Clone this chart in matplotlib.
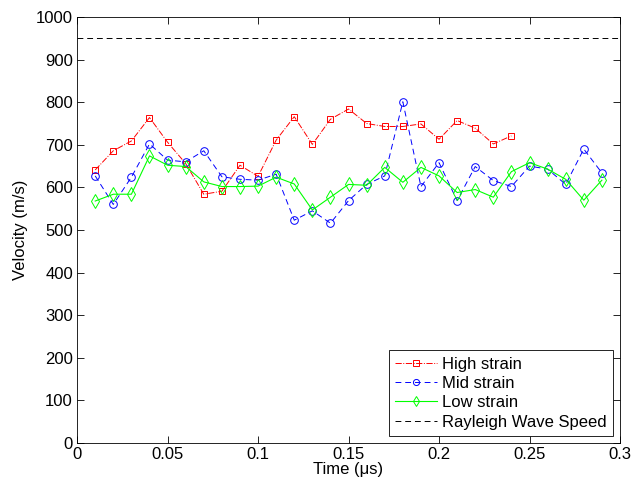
import numpy as np
import matplotlib.pyplot as plt

plt.rcParams['font.family'] = ['Liberation Sans', 'DejaVu Sans']

time_high = [0.01, 0.02, 0.03, 0.04, 0.05, 0.06, 0.07, 0.08, 0.09, 0.10, 0.11, 0.12,
             0.13, 0.14, 0.15, 0.16, 0.17, 0.18, 0.19, 0.20, 0.21, 0.22, 0.23, 0.24]
high_strain = [641, 686, 709, 764, 706, 656, 584, 591, 652, 626, 711, 766,
               701, 760, 784, 750, 743, 743, 749, 713, 757, 739, 702, 721]

time_all = [0.01, 0.02, 0.03, 0.04, 0.05, 0.06, 0.07, 0.08, 0.09, 0.10, 0.11, 0.12,
            0.13, 0.14, 0.15, 0.16, 0.17, 0.18, 0.19, 0.20, 0.21, 0.22, 0.23, 0.24,
            0.25, 0.26, 0.27, 0.28, 0.29]
mid_strain = [627, 560, 624, 702, 664, 660, 686, 625, 619, 617, 631, 523,
              545, 516, 569, 607, 627, 801, 602, 658, 569, 649, 616, 602,
              650, 643, 607, 690, 634]
low_strain = [568, 584, 584, 674, 652, 649, 613, 602, 602, 603, 624, 608,
              547, 577, 607, 605, 647, 612, 647, 627, 588, 595, 577, 637,
              658, 643, 619, 570, 617]

rayleigh_speed = 950

fig = plt.figure(figsize=(6.32, 4.86), dpi=100)
ax = fig.add_axes([0.122, 0.0885, 0.859, 0.8765])

ax.plot(time_high, high_strain, color='red', linestyle='-.', linewidth=0.7,
        marker='s', markersize=5, markerfacecolor='none', markeredgewidth=0.7,
        label='High strain')
ax.plot(time_all, mid_strain, color='blue', linestyle=(0, (6, 4)), linewidth=0.7,
        marker='o', markersize=5.5, markerfacecolor='none', markeredgewidth=0.7,
        label='Mid strain')
ax.plot(time_all, low_strain, color='#00ff00', linestyle='-', linewidth=0.8,
        marker='d', markersize=7, markerfacecolor='none', markeredgewidth=0.7,
        label='Low strain')
ax.axhline(rayleigh_speed, color='black', linestyle=(0, (6, 4)), linewidth=0.7,
           label='Rayleigh Wave Speed')

ax.set_xlim(0, 0.3)
ax.set_ylim(0, 1000)
ax.set_xticks([0, 0.05, 0.1, 0.15, 0.2, 0.25, 0.3])
ax.set_xticklabels(['0', '0.05', '0.1', '0.15', '0.2', '0.25', '0.3'])
ax.set_yticks(np.arange(0, 1001, 100))
ax.tick_params(direction='in', top=True, right=True, labelsize=12, length=5, width=0.6, pad=3)
for s in ax.spines.values():
    s.set_linewidth(0.6)

ax.set_xlabel('Time (\u03bcs)', fontsize=12, labelpad=0)
ax.set_ylabel('Velocity (m/s)', fontsize=12, labelpad=6)

leg = ax.legend(loc='lower right', fontsize=12, fancybox=False, framealpha=1,
                edgecolor='black', handlelength=2.5, borderpad=0.4,
                labelspacing=0.26, handletextpad=0.3, borderaxespad=0.4,
                markerscale=0.8)
leg.get_frame().set_linewidth(0.6)

fig.savefig('out.png', dpi=100)
